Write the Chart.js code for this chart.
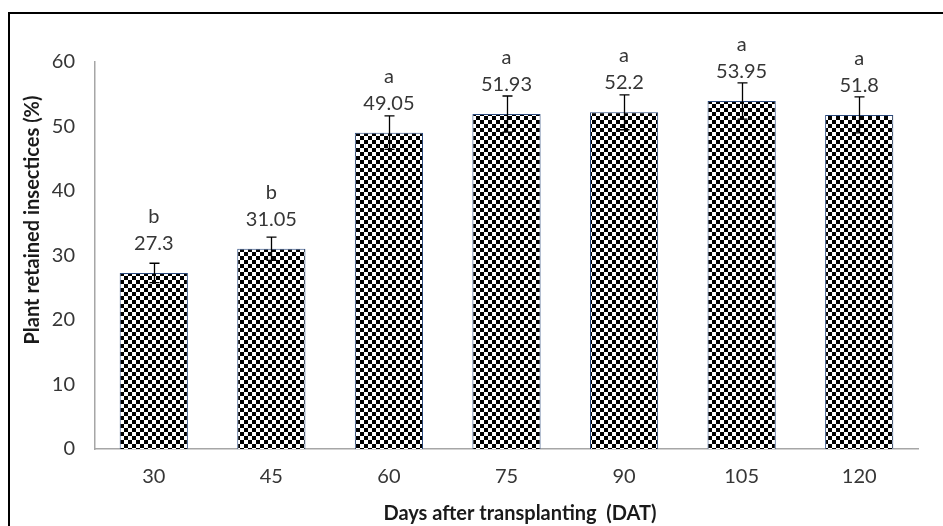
<!DOCTYPE html>
<html>
<head>
<meta charset="utf-8">
<script src="https://cdn.jsdelivr.net/npm/chart.js@4"></script>
<style>
  html, body { margin: 0; padding: 0; background: #ffffff; }
  #wrap { width: 943px; height: 526px; position: relative; }
</style>
</head>
<body>
<div id="wrap"><canvas id="chart" width="943" height="526"></canvas></div>
<script>
// Days after transplanting
const categories = ['30', '45', '60', '75', '90', '105', '120'];
// Mean plant-retained insecticide (%)
const retained = [27.3, 31.05, 49.05, 51.93, 52.2, 53.95, 51.8];
// Error (±) for each mean
const errors = [1.5, 1.8, 2.6, 2.8, 2.7, 2.8, 2.8];
// Significance letters
const letters = ['b', 'b', 'a', 'a', 'a', 'a', 'a'];
// Y-axis tick values
const yTicks = [0, 10, 20, 30, 40, 50, 60];

const FONT = 'Lato, "Open Sans", sans-serif';
const TEXT = '#363636';

// Checkerboard fill for the bars
function checkerPattern() {
  const c = document.createElement('canvas');
  c.width = 8; c.height = 8;
  const g = c.getContext('2d');
  g.fillStyle = '#ffffff';
  g.fillRect(0, 0, 8, 8);
  g.fillStyle = '#000000';
  g.fillRect(0, 0, 4, 4);
  g.fillRect(4, 4, 4, 4);
  return document.getElementById('chart').getContext('2d').createPattern(c, 'repeat');
}

// Outer frame, error bars, value labels, letters and axis titles
const decorations = {
  id: 'decorations',
  beforeDraw(chart) {
    const ctx = chart.ctx;
    ctx.save();
    ctx.fillStyle = '#ffffff';
    ctx.fillRect(0, 0, chart.width, chart.height);
    ctx.restore();
  },
  afterDatasetsDraw(chart) {
    const ctx = chart.ctx;
    const y = chart.scales.y;
    const meta = chart.getDatasetMeta(0);
    ctx.save();
    // error bars
    ctx.strokeStyle = '#000000';
    ctx.lineWidth = 1.3;
    meta.data.forEach((bar, i) => {
      const x = Math.round(bar.x) + 0.5;
      const top = y.getPixelForValue(retained[i] + errors[i]);
      const bot = y.getPixelForValue(retained[i] - errors[i]);
      ctx.beginPath();
      ctx.moveTo(x, top); ctx.lineTo(x, bot);
      ctx.moveTo(x - 5, top); ctx.lineTo(x + 5, top);
      ctx.moveTo(x - 5, bot); ctx.lineTo(x + 5, bot);
      ctx.stroke();
    });
    // value labels and letters
    ctx.fillStyle = TEXT;
    ctx.textAlign = 'center';
    ctx.textBaseline = 'alphabetic';
    ctx.font = '20px ' + FONT;
    meta.data.forEach((bar, i) => {
      const base = y.getPixelForValue(retained[i]) - 23;
      ctx.fillText(String(retained[i]), bar.x, base);
      ctx.fillText(letters[i], bar.x, base - 27);
    });
    ctx.restore();
  },
  afterDraw(chart) {
    const ctx = chart.ctx;
    ctx.save();
    // frame
    ctx.strokeStyle = '#000000';
    ctx.lineWidth = 2;
    ctx.strokeRect(9, 13, chart.width + 20, chart.height + 20);
    // axis titles
    ctx.fillStyle = '#1a1a1a';
    ctx.font = 'bold 20px ' + FONT;
    ctx.textAlign = 'center';
    ctx.textBaseline = 'alphabetic';
    ctx.fillText('Days after transplanting  (DAT)', 520, 520);
    ctx.translate(39, 220);
    ctx.rotate(-Math.PI / 2);
    ctx.fillText('Plant retained insectices (%)', 0, 0);
    ctx.restore();
  }
};

new Chart(document.getElementById('chart'), {
  type: 'bar',
  data: {
    labels: categories,
    datasets: [{
      data: retained,
      backgroundColor: checkerPattern(),
      borderColor: '#2b4a7e',
      borderWidth: 1,
      categoryPercentage: 1,
      barPercentage: 0.58
    }]
  },
  options: {
    responsive: false,
    animation: false,
    layout: { padding: { top: 62, right: 25, left: 0, bottom: 0 } },
    plugins: { legend: { display: false }, tooltip: { enabled: false } },
    scales: {
      x: {
        grid: { display: false, drawTicks: false },
        border: { display: true, color: '#a6a6a6', width: 1.5 },
        ticks: { color: TEXT, font: { family: FONT, size: 20 }, padding: 16 },
        afterFit(s) { s.height = 77; }
      },
      y: {
        min: 0, max: 60,
        afterBuildTicks(s) { s.ticks = yTicks.map(v => ({ value: v })); },
        grid: { display: false, drawTicks: false },
        border: { display: true, color: '#a6a6a6', width: 1.5 },
        ticks: { color: TEXT, font: { family: FONT, size: 20 }, padding: 20 },
        afterFit(s) { s.width = 95; }
      }
    }
  },
  plugins: [decorations]
});
</script>
</body>
</html>
